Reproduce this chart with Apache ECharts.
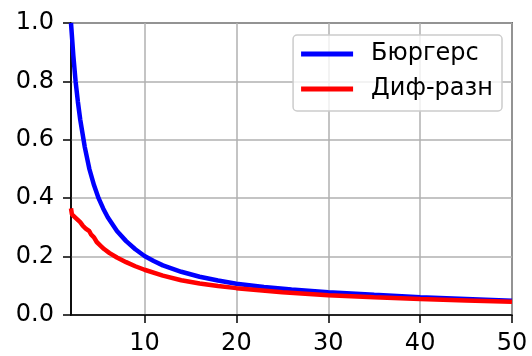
<!DOCTYPE html>
<html>
<head>
<meta charset="utf-8">
<script src="https://cdn.jsdelivr.net/npm/echarts@6/dist/echarts.min.js"></script>
<style>html,body{margin:0;padding:0;background:#fff}#c{width:532px;height:356px}</style>
</head>
<body>
<div id="c"></div>
<script>
const seriesNames = ['Бюргерс', 'Диф-разн'];
const burgersX = [2, 2.25, 2.5, 2.75, 3, 3.5, 4, 4.5, 5, 5.5, 6, 7, 8, 9, 10, 11, 12, 14, 16, 18, 20, 23, 26, 30, 35, 40, 45, 50];
const burgersY = [1.0, 0.89, 0.80, 0.73, 0.67, 0.575, 0.50, 0.445, 0.40, 0.365, 0.335, 0.288, 0.253, 0.225, 0.202, 0.185, 0.170, 0.148, 0.131, 0.118, 0.107, 0.096, 0.087, 0.078, 0.069, 0.061, 0.055, 0.049];
const difX = [2, 2.1, 2.5, 3, 3.3, 3.6, 4, 4.2, 4.5, 4.8, 5.2, 5.6, 6.2, 7, 8, 9, 10, 12, 14, 16, 18, 20, 25, 30, 35, 40, 45, 50];
const difY = [0.365, 0.345, 0.333, 0.318, 0.305, 0.296, 0.287, 0.275, 0.266, 0.250, 0.238, 0.226, 0.212, 0.197, 0.181, 0.167, 0.155, 0.135, 0.119, 0.108, 0.099, 0.092, 0.078, 0.068, 0.061, 0.055, 0.050, 0.045];
const xTicks = [10, 20, 30, 40, 50];
const yMin = 0, yMax = 1, yStep = 0.2;
const xMin = 2, xMax = 50;

const font = 'DejaVu Sans';
const chart = echarts.init(document.getElementById('c'), null, {renderer: 'canvas'});
chart.setOption({
  animation: false,
  backgroundColor: '#fff',
  grid: {left: 71, right: 20, top: 23, bottom: 40, show: true, borderColor: '#000', borderWidth: 1.5},
  legend: {
    right: 30, top: 35, orient: 'vertical',
    data: seriesNames,
    icon: 'rect', itemWidth: 52, itemHeight: 5, itemGap: 11, itemTextGap: 5,
    padding: [7, 9, 10, 8],
    backgroundColor: 'rgba(255,255,255,0.8)', borderColor: '#cccccc', borderWidth: 1.5, borderRadius: 4,
    textStyle: {fontFamily: font, fontSize: 24, color: '#000', padding: [0, 0, 0, 13]}
  },
  xAxis: {
    type: 'value', min: xMin, max: xMax,
    axisLine: {show: true, onZero: false, lineStyle: {color: '#000', width: 1.5}},
    axisTick: {show: true, length: 8, customValues: xTicks, lineStyle: {color: '#000', width: 1.5}},
    axisLabel: {customValues: xTicks, fontFamily: font, fontSize: 24, color: '#000', margin: 17},
    splitLine: {show: true, lineStyle: {color: '#b0b0b0', width: 1.5}}
  },
  yAxis: {
    type: 'value', min: yMin, max: yMax, interval: yStep,
    axisLine: {show: true, lineStyle: {color: '#000', width: 1.5}},
    axisTick: {show: true, length: 8, lineStyle: {color: '#000', width: 1.5}},
    axisLabel: {fontFamily: font, fontSize: 24, color: '#000', margin: 17, formatter: v => v.toFixed(1)},
    splitLine: {show: true, lineStyle: {color: '#b0b0b0', width: 1.5}}
  },
  series: [
    {name: seriesNames[0], type: 'line', showSymbol: false, color: '#0000ff',
     lineStyle: {width: 4.5, color: '#0000ff'}, data: burgersX.map((x, i) => [x, burgersY[i]])},
    {name: seriesNames[1], type: 'line', showSymbol: false, color: '#ff0000',
     lineStyle: {width: 4.5, color: '#ff0000'}, data: difX.map((x, i) => [x, difY[i]])}
  ]
});
</script>
</body>
</html>
